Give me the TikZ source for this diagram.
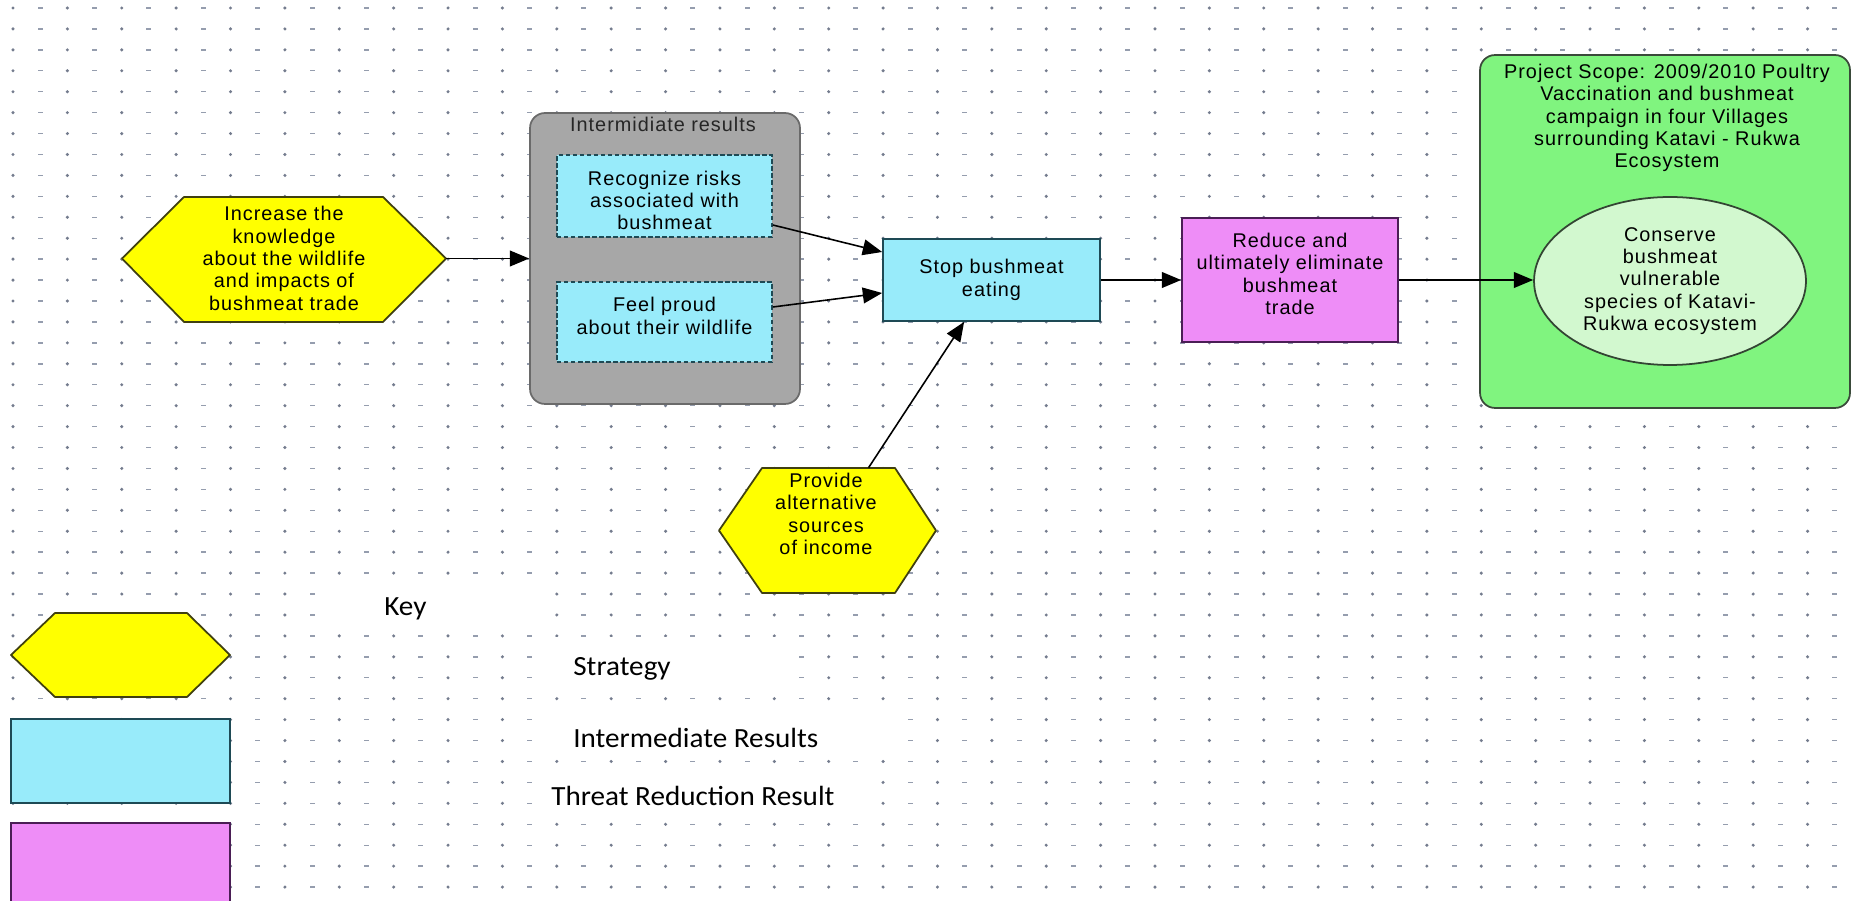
\documentclass[tikz,border=0pt]{standalone}
\usepackage{fontspec}
\usetikzlibrary{shapes.geometric,arrows.meta}
\newfontfamily\diag{Liberation Sans}[LetterSpace=5]
\newfontfamily\keyfont{Carlito}[FakeStretch=1.05]
\definecolor{yellowc}{HTML}{FFFF00}
\definecolor{hexborder}{HTML}{404010}
\definecolor{cyanc}{HTML}{98EBFA}
\definecolor{cyanborder}{HTML}{1E4A55}
\definecolor{magc}{HTML}{EE8DF7}
\definecolor{magborder}{HTML}{4A1E55}
\definecolor{greenc}{HTML}{80F47F}
\definecolor{greenborder}{HTML}{3A4A3A}
\definecolor{ellc}{HTML}{D2F8CF}
\definecolor{ellborder}{HTML}{334433}
\definecolor{grayc}{HTML}{A7A7A7}
\definecolor{grayborder}{HTML}{6A6A6A}
\definecolor{dotA}{HTML}{747C8E}
\definecolor{dotB}{HTML}{959DAE}
\begin{document}
\begin{tikzpicture}[x=0.02cm,y=-0.02cm,
  dtext/.style={font=\diag\fontsize{11.3}{12.7}\selectfont, align=center, text=black, inner sep=0pt},
  keyt/.style={font=\keyfont\fontsize{15.8}{17}\selectfont, text=black, inner sep=0pt, anchor=west},
  arr/.style={draw=black, line width=0.9pt, -{Triangle[length=11pt,width=9pt]}},
  hexfill/.style={fill=yellowc, draw=hexborder, line width=1pt, line join=round},
  cbox/.style={rectangle, fill=cyanc, draw=cyanborder, line width=1pt, inner sep=0pt},
  mbox/.style={rectangle, fill=magc, draw=magborder, line width=1pt, inner sep=0pt},
  anchorbox/.style={rectangle, draw=none, inner sep=0pt}
]
\useasboundingbox (0,0) rectangle (1852,901);
\clip (0,0) rectangle (1852,901);
\fill[white] (0,0) rectangle (1852,901);
% dotted grid
\foreach \i in {0,2,...,66}{
  \foreach \j in {0,...,42}{
    \fill[dotA] (13+27.19*\i, 8+20.93*\j) circle (0.034cm);
  }
}
\foreach \i in {1,3,...,67}{
  \foreach \j in {0,...,42}{
    \fill[dotB] (10.5+27.19*\i, 7.3+20.93*\j) rectangle (15.5+27.19*\i, 8.7+20.93*\j);
  }
}

% Strategy hexagon 1
\draw[hexfill] (122,258.5) -- (184,197) -- (383,197) -- (446,258.5) -- (383,322) -- (184,322) -- cycle;
\node[anchorbox, dtext, minimum width=6.48cm, minimum height=2.5cm] (h1) at (284,258.5)
  {Increase the\\knowledge\\about the wildlife\\and impacts of\\bushmeat trade};

% Intermediate results group
\node[rectangle, rounded corners=0.3cm, fill=grayc, draw=grayborder, line width=1pt,
  minimum width=5.4cm, minimum height=5.82cm] (gray) at (665,258.5) {};
\node[dtext, text={black!85}] (graytitle) at (663,124) {Intermidiate results};

\node[cbox, dashed, dash pattern=on 2.5pt off 1.5pt, minimum width=4.3cm, minimum height=1.64cm,
  label={[dtext, yshift=-0.09cm]center:{Recognize risks\\associated with\\bushmeat}}] (b1) at (664.5,196) {};
\node[cbox, dashed, dash pattern=on 2.5pt off 1.5pt, minimum width=4.3cm, minimum height=1.6cm,
  label={[dtext, yshift=0.12cm]center:{Feel proud\\about their wildlife}}] (b2) at (664.5,322) {};

% Stop bushmeat eating
\node[cbox, dtext, minimum width=4.34cm, minimum height=1.64cm] (stop) at (991.5,280)
  {Stop bushmeat\\eating};

% Threat reduction result
\node[mbox, minimum width=4.32cm, minimum height=2.48cm,
  label={[dtext, yshift=0.12cm]center:{Reduce and\\ultimately eliminate\\bushmeat\\trade}}] (mag) at (1290,280) {};

% Project scope
\node[rectangle, rounded corners=0.3cm, fill=greenc, draw=greenborder, line width=1pt,
  minimum width=7.4cm, minimum height=7.06cm] (green) at (1665,231.5) {};
\node[dtext] (greentitle) at (1667,118)
  {Project Scope: 2009/2010 Poultry\\Vaccination and bushmeat\\campaign in four Villages\\surrounding Katavi - Rukwa\\Ecosystem};
\node[ellipse, fill=ellc, draw=ellborder, line width=1pt, dtext, minimum width=5.44cm, minimum height=3.36cm] (ell) at (1670,281)
  {Conserve\\bushmeat\\vulnerable\\species of Katavi-\\Rukwa ecosystem};

% Provide alternative sources of income
\draw[hexfill] (719,530.5) -- (762,468) -- (895,468) -- (936,530.5) -- (895,593) -- (762,593) -- cycle;
\node[anchorbox, minimum width=4.34cm, minimum height=2.5cm] (prov) at (827.5,530.5) {};
\node[dtext] (provtext) at (826,514) {Provide\\alternative\\sources\\of income};

% connectors
\draw[arr] (h1.east) -- (gray.west);
\draw[arr] ([yshift=-0.58cm]b1.east) -- ([yshift=0.56cm]stop.west);
\draw[arr] ([yshift=0.3cm]b2.east) -- ([yshift=-0.26cm]stop.west);
\draw[arr] (prov) -- (stop);
\draw[arr] (stop.east) -- (mag.west);
\draw[arr] (mag.east) -- (mag.east -| ell.west);

% Key
\fill[white] (321,580) rectangle (554,622);
\fill[white] (554,637) rectangle (786,680);
\fill[white] (554,707) rectangle (896,753);
\fill[white] (534,773) rectangle (878,808);
\node[keyt] (keylabel) at (384,609) {Key};
\node[keyt] (kstrat) at (573,669) {Strategy};
\node[keyt] (kinter) at (573,738) {Intermediate Results};
\node[keyt] (kthreat) at (551,796) {Threat Reduction Result};

\draw[hexfill] (11,655) -- (55,613) -- (187,613) -- (230,655) -- (187,697) -- (55,697) -- cycle;
\node[anchorbox, minimum width=4.38cm, minimum height=1.68cm] (lhex) at (120.5,655) {};
\node[cbox, minimum width=4.38cm, minimum height=1.68cm] (lcyan) at (120.5,761) {};
\node[mbox, minimum width=4.38cm, minimum height=1.9cm] (lmag) at (120.5,870.5) {};
\end{tikzpicture}
\end{document}
